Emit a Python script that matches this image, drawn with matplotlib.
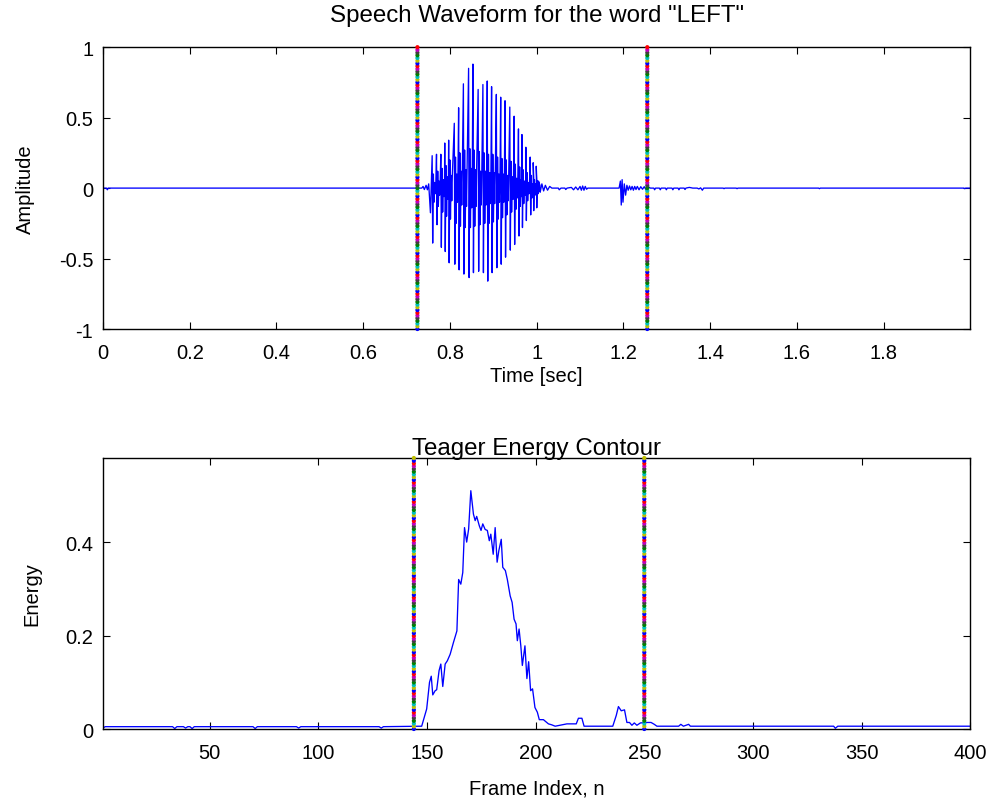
import numpy as np
import matplotlib.pyplot as plt
from matplotlib.ticker import FormatStrFormatter

plt.rcParams['font.family'] = ['Liberation Sans', 'DejaVu Sans']
plt.rcParams['axes.unicode_minus'] = False
plt.rcParams['font.size'] = 14.5

# word boundaries found by the detector
startTime = 0.725
endTime = 1.255
startFrame = 144
endFrame = 250

# silence / onset part of the waveform
preTimes = [0.0, 0.008, 0.010, 0.012, 0.700, 0.735, 0.738, 0.741, 0.745, 0.748, 0.751, 0.755]
preAmps = [0.0, 0.0, -0.012, 0.0, 0.0, 0.0, 0.012, -0.010, 0.020, -0.012, 0.030, -0.175]

# voiced part: one entry per glottal pulse
pulseTimes = [0.759, 0.769, 0.779, 0.788, 0.797, 0.810, 0.820, 0.831, 0.843, 0.853, 0.865,
              0.876, 0.886, 0.896, 0.907, 0.917, 0.927, 0.938, 0.948, 0.958, 0.966, 0.975,
              0.985, 0.992, 0.999]
pulseHigh = [0.23, 0.24, 0.24, 0.32, 0.34, 0.46, 0.57, 0.74, 0.85, 0.88, 0.70,
             0.735, 0.76, 0.72, 0.665, 0.645, 0.62, 0.575, 0.51, 0.42, 0.38, 0.29,
             0.22, 0.18, 0.155]
pulseLow = [-0.39, -0.26, -0.42, -0.45, -0.53, -0.54, -0.58, -0.61, -0.635, -0.60, -0.59,
            -0.60, -0.66, -0.60, -0.565, -0.54, -0.49, -0.44, -0.40, -0.34, -0.28, -0.23,
            -0.19, -0.16, -0.14]
rippleHigh = [0.10, 0.12, 0.14, 0.16, 0.20, 0.22, 0.25, 0.27, 0.28, 0.27, 0.26,
              0.25, 0.24, 0.24, 0.22, 0.21, 0.20, 0.19, 0.17, 0.15, 0.13, 0.11,
              0.09, 0.06, 0.05]
rippleLow = [-0.10, -0.13, -0.17, -0.20, -0.22, -0.25, -0.27, -0.28, -0.28, -0.27, -0.26,
             -0.25, -0.25, -0.24, -0.22, -0.21, -0.19, -0.17, -0.15, -0.13, -0.11, -0.09,
             -0.07, -0.05, -0.04]
rippleSmall = [0.04, 0.05, 0.06, 0.08, 0.09, 0.10, 0.12, 0.13, 0.14, 0.13, 0.12,
               0.12, 0.11, 0.11, 0.10, 0.10, 0.09, 0.08, 0.07, 0.06, 0.05, 0.04,
               0.03, 0.03, 0.02]

# decay, stop burst and silence after the vowel
postTimes = [1.004, 1.008, 1.012, 1.016, 1.020, 1.025, 1.030, 1.035, 1.050, 1.052, 1.056,
             1.065, 1.067, 1.070, 1.080, 1.085, 1.090, 1.095, 1.100, 1.103, 1.106, 1.109,
             1.112, 1.115, 1.118, 1.190, 1.193, 1.195, 1.197, 1.199, 1.202, 1.205, 1.208,
             1.211, 1.214, 1.217, 1.220, 1.223, 1.226, 1.229, 1.232, 1.236, 1.240, 1.244,
             1.248, 1.252, 1.258, 1.262, 1.270, 1.272, 1.274, 1.283, 1.285, 1.287, 1.297,
             1.299, 1.301, 1.312, 1.314, 1.316, 1.326, 1.328, 1.330, 1.340, 1.342, 1.344,
             1.352, 1.360, 1.370, 1.374, 1.378, 1.382, 1.385, 1.430, 1.432, 1.434, 1.460,
             1.462, 1.464, 1.650, 1.652, 1.654, 1.985, 1.987, 1.989, 2.000]
postAmps = [0.05, -0.03, 0.03, -0.02, 0.02, -0.015, 0.012, 0.0, 0.0, -0.012, 0.0,
            0.0, -0.01, 0.0, 0.005, -0.012, 0.008, -0.012, 0.012, -0.015, 0.015, -0.015,
            0.012, -0.008, 0.0, 0.0, 0.05, -0.12, 0.06, -0.10, 0.03, -0.05, 0.02,
            -0.015, 0.015, -0.012, 0.012, -0.015, 0.012, -0.01, 0.012, -0.012, 0.01, -0.008,
            0.01, -0.012, 0.008, 0.0, 0.0, -0.012, 0.0, 0.0, -0.012, 0.0, 0.0,
            -0.012, 0.0, 0.0, -0.012, 0.0, 0.0, -0.012, 0.0, 0.0, -0.010, 0.0,
            0.005, 0.0, 0.0, -0.006, 0.002, -0.015, 0.0, 0.0, -0.004, 0.0, 0.0,
            -0.004, 0.0, 0.0, -0.004, 0.0, 0.0, -0.004, 0.0, 0.0]

# teager energy contour (frame, energy)
energyFrames = [1, 2, 3, 33, 34, 35, 38, 39, 40, 41, 42, 43, 70, 71, 72, 90, 91, 92, 128, 129,
                130, 147.6, 149.9, 151.2, 152.0, 152.7, 153.8, 154.5, 155.6, 156.4, 157.3,
                158.4, 159.4, 160.7, 162.2, 163.8, 164.6, 165.6, 166.5, 167.3, 168.3, 169.2,
                170.2, 171.4, 172.2, 172.9, 174.1, 174.9, 175.7, 176.8, 177.8, 178.7, 179.4,
                180.5, 181.4, 182.3, 183.1, 184.2, 184.9, 186.1, 187.0, 188.3, 189.2, 190.1,
                191.0, 191.6, 192.4, 193.2, 193.9, 195.1, 196.0, 196.8, 197.7, 198.6, 199.7,
                200.8, 201.7, 203.6, 205.9, 207.4, 209.0, 214.4, 218.7, 219.7, 221.3, 222.3,
                235.5, 237.1, 238.1, 239.4, 240.9, 242.0, 243.2, 244.3, 245.4, 246.6, 248.2,
                251.3, 253.1, 254.6, 255.8, 265.8, 266.8, 268.0, 270.4, 271.2, 337.1, 337.9,
                339.0, 400]
energyValues = [0.002, 0.005, 0.005, 0.005, 0.001, 0.005, 0.005, 0.002, 0.005, 0.005, 0.001,
                0.005, 0.005, 0.001, 0.005, 0.005, 0.002, 0.005, 0.005, 0.002,
                0.005, 0.006, 0.043, 0.100, 0.113, 0.073, 0.082, 0.084, 0.125, 0.139, 0.091,
                0.139, 0.146, 0.160, 0.185, 0.210, 0.320, 0.310, 0.335, 0.431, 0.400, 0.428,
                0.510, 0.460, 0.446, 0.455, 0.435, 0.425, 0.439, 0.427, 0.425, 0.403, 0.417,
                0.374, 0.431, 0.357, 0.382, 0.406, 0.346, 0.339, 0.320, 0.285, 0.271, 0.235,
                0.225, 0.189, 0.214, 0.178, 0.136, 0.178, 0.108, 0.144, 0.082, 0.086, 0.046,
                0.036, 0.020, 0.020, 0.011, 0.009, 0.006, 0.011, 0.011, 0.023, 0.023, 0.006,
                0.006, 0.029, 0.048, 0.039, 0.041, 0.014, 0.014, 0.008, 0.013, 0.008, 0.013,
                0.014, 0.014, 0.010, 0.006, 0.006, 0.010, 0.006, 0.010, 0.006, 0.006, 0.0015,
                0.006, 0.006]

# old MATLAB colour order used for the boundary markers
markerColors = ['#0000ff', '#008000', '#ff0000', '#00bfbf', '#bf00bf', '#bfbf00', '#404040']


def buildWaveform():
    t = list(preTimes)
    a = list(preAmps)
    for i in range(len(pulseTimes)):
        p = pulseTimes[i]
        t += [p, p + 0.0012, p + 0.0028, p + 0.0042, p + 0.0058, p + 0.0072, p + 0.0085]
        a += [pulseHigh[i], pulseLow[i], rippleHigh[i], rippleLow[i],
              rippleSmall[i], -rippleSmall[i], rippleSmall[i]]
    t += postTimes
    a += postAmps
    return np.array(t), np.array(a)


def boundaryLine(ax, x, y0, y1, n):
    ys = np.linspace(y0, y1, n)
    cols = [markerColors[(k * 5) % len(markerColors)] for k in range(n)]
    ax.scatter(np.full(n, x), ys, s=9, c=cols, zorder=3, clip_on=False, linewidths=0)


def styleAxes(ax):
    ax.tick_params(direction='in', length=5, width=0.8, top=True, right=True)
    ax.tick_params(axis='x', pad=10)
    ax.tick_params(axis='y', pad=7)
    for s in ax.spines.values():
        s.set_linewidth(1.0)


fig = plt.figure(figsize=(9.97, 8.03), dpi=100)
ax1 = fig.add_axes([0.1033, 0.589, 0.870, 0.351])
ax2 = fig.add_axes([0.1033, 0.0909, 0.870, 0.3375])

waveT, waveA = buildWaveform()
ax1.plot(waveT, waveA, color='#0000ff', linewidth=0.95)
boundaryLine(ax1, startTime, -1, 1, 105)
boundaryLine(ax1, endTime, -1, 1, 105)
ax1.set_xlim(0, 2.0)
ax1.set_ylim(-1, 1)
ax1.set_xticks([0, 0.2, 0.4, 0.6, 0.8, 1.0, 1.2, 1.4, 1.6, 1.8])
ax1.set_yticks([-1, -0.5, 0, 0.5, 1])
ax1.xaxis.set_major_formatter(FormatStrFormatter('%g'))
ax1.yaxis.set_major_formatter(FormatStrFormatter('%g'))
ax1.set_xlabel('Time [sec]', labelpad=3)
ax1.set_ylabel('Amplitude', labelpad=17.5)
ax1.set_title('Speech Waveform for the word "LEFT"', pad=19)
styleAxes(ax1)

ax2.plot(energyFrames, energyValues, color='#0000ff', linewidth=0.95)
boundaryLine(ax2, startFrame, 0, 0.58, 100)
boundaryLine(ax2, endFrame, 0, 0.58, 100)
ax2.set_xlim(1, 400)
ax2.set_ylim(0, 0.58)
ax2.set_xticks([50, 100, 150, 200, 250, 300, 350, 400])
ax2.set_yticks([0, 0.2, 0.4])
ax2.yaxis.set_major_formatter(FormatStrFormatter('%g'))
ax2.set_xlabel('Frame Index, n', labelpad=12)
ax2.set_ylabel('Energy', labelpad=17.5)
ax2.set_title('Teager Energy Contour', pad=3)
styleAxes(ax2)

fig.savefig('out.png', dpi=100)
